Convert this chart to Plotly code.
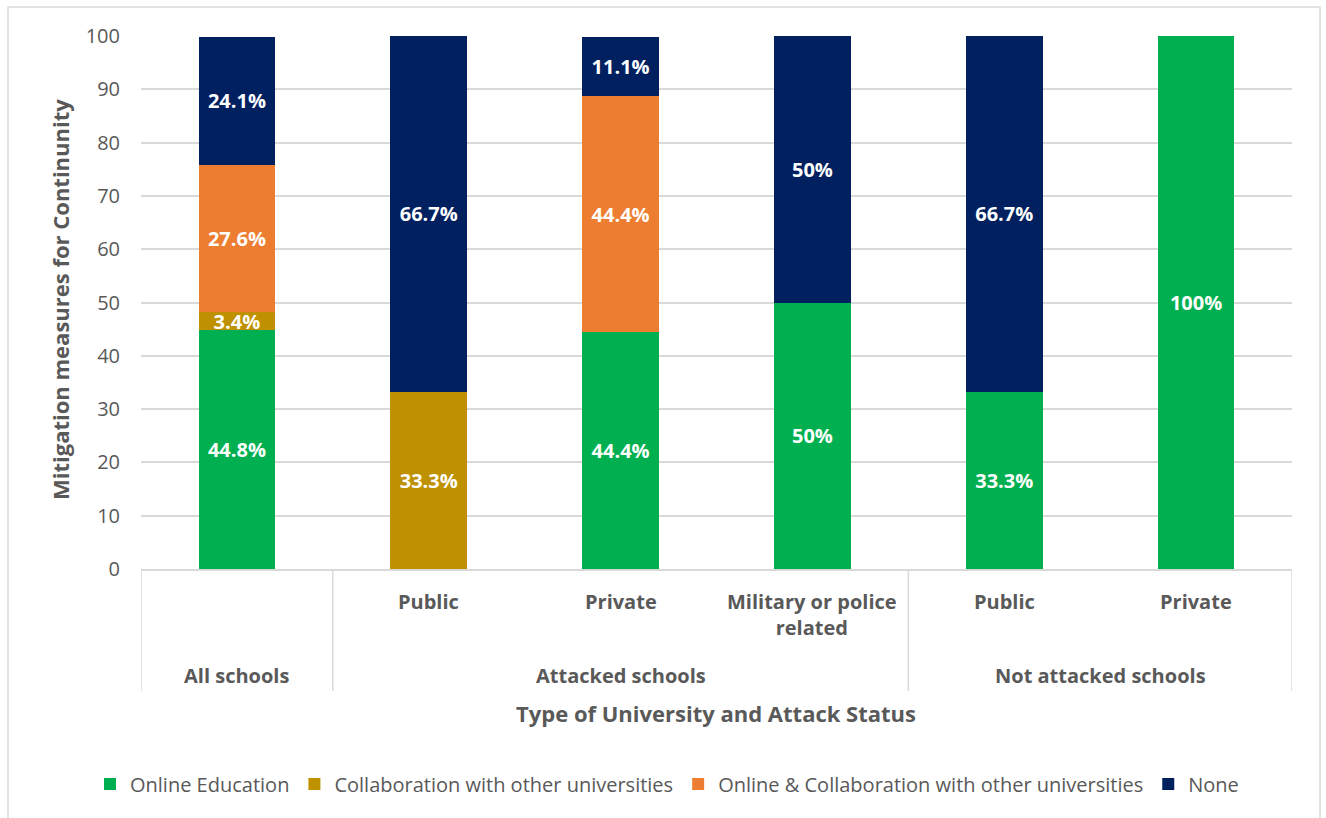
import plotly.graph_objects as go

# ---- data ----
group_labels = ["All schools", "Attacked schools", "Not attacked schools"]
group_spans = [(0, 0), (1, 3), (4, 5)]  # category index ranges for each group
sub_labels = ["", "Public", "Private", "Military or police<br>related", "Public", "Private"]

series_names = ["Online Education", "Collaboration with other universities",
                "Online & Collaboration with other universities", "None"]
online_education = [44.8, 0, 44.4, 50, 33.3, 100]
collaboration = [3.4, 33.3, 0, 0, 0, 0]
online_and_collab = [27.6, 0, 44.4, 0, 0, 0]
none_vals = [24.1, 66.7, 11.1, 50, 66.7, 0]
series_values = [online_education, collaboration, online_and_collab, none_vals]
colors = ["#00B050", "#BF9000", "#ED7D31", "#002060"]

y_title = "Mitigation measures for Continunity"
x_title = "Type of University and Attack Status"

FONT = "Open Sans"
GRAY = "#595959"
LINE = "#d9d9d9"

x = list(range(len(sub_labels)))

fig = go.Figure()
for name, vals, col in zip(series_names, series_values, colors):
    txt = [f"{v:g}%" if v else "" for v in vals]
    fig.add_trace(go.Bar(
        x=x, y=vals, name=name, marker=dict(color=col, line=dict(width=0)),
        width=0.4, text=txt, textposition="inside", insidetextanchor="middle",
        constraintext="none", cliponaxis=False,
        textfont=dict(color="white", size=20, family=FONT, weight="bold"),
        hoverinfo="skip",
    ))

# plot area in paper coords (plot area: x 141..1292, y 36..569)
PW, PH = 1151.0, 533.0
def py(pix):  # pixel y -> paper y
    return (569 - pix) / PH
def px(pix):
    return (pix - 141) / PW

shapes = []
# outer frame
shapes.append(dict(type="rect", xref="paper", yref="paper",
                   x0=px(8), x1=px(1320), y0=py(7), y1=py(840),
                   line=dict(color=LINE, width=1.5), layer="below"))
# dividers
for xv in [-0.5, 0.5, 3.5, 5.5]:
    shapes.append(dict(type="line", xref="x", yref="paper", x0=xv, x1=xv,
                       y0=0, y1=py(691), line=dict(color=LINE, width=1.5)))

annotations = []
for i, lab in enumerate(sub_labels):
    if lab:
        annotations.append(dict(x=i, xref="x", y=py(586), yref="paper", text=lab,
                                showarrow=False, yanchor="top", xanchor="center",
                                font=dict(size=20, color=GRAY, family=FONT, weight="bold")))
for lab, (a, b) in zip(group_labels, group_spans):
    annotations.append(dict(x=(a + b) / 2, xref="x", y=py(675), yref="paper", text=lab,
                            showarrow=False, yanchor="middle", xanchor="center",
                            font=dict(size=20, color=GRAY, family=FONT, weight="bold")))
annotations.append(dict(x=px(716), xref="paper", y=py(713), yref="paper", text=x_title,
                        showarrow=False, yanchor="middle", xanchor="center",
                        font=dict(size=22, color=GRAY, family=FONT, weight="bold")))
annotations.append(dict(x=px(60), xref="paper", y=py(300), yref="paper", text=y_title,
                        showarrow=False, yanchor="middle", xanchor="center", textangle=-90,
                        font=dict(size=22, color=GRAY, family=FONT, weight="bold")))

fig.update_layout(
    barmode="stack",
    width=1326, height=818,
    margin=dict(l=141, r=34, t=36, b=249),
    paper_bgcolor="white", plot_bgcolor="white",
    font=dict(family=FONT, color=GRAY),
    shapes=shapes, annotations=annotations,
    showlegend=True,
    legend=dict(orientation="h", x=px(667), xanchor="center", y=py(784), yanchor="middle",
                font=dict(size=20, color=GRAY, family=FONT), traceorder="normal"),
    xaxis=dict(range=[-0.5, 5.5], tickvals=x, showticklabels=False, showgrid=False,
               showline=True, linecolor=LINE, linewidth=1.5, zeroline=False, fixedrange=True),
    yaxis=dict(range=[0, 100], dtick=10, showgrid=True, gridcolor=LINE, gridwidth=1.5,
               zeroline=False, showline=False, tickfont=dict(size=20, color=GRAY, family=FONT),
               ticklabelstandoff=20, fixedrange=True),
)

fig.write_html("out.html", config={"displayModeBar": False},
               post_script="document.body.style.margin='0px';document.body.style.overflow='hidden';")
